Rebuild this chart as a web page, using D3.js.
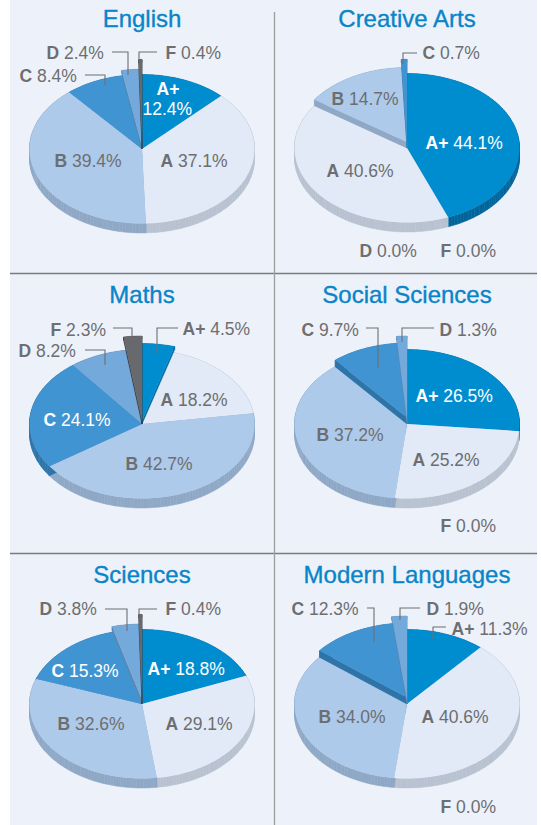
<!DOCTYPE html>
<html>
<head>
<meta charset="utf-8">
<script src="https://cdn.jsdelivr.net/npm/d3@7"></script>
<style>
  html, body { margin: 0; padding: 0; background: #fff; }
  svg { display: block; }
</style>
</head>
<body>
<svg></svg>
<script>
// values, in grade order
var grades = ["A+", "A", "B", "C", "D", "F"];
var english = [12.4, 37.1, 39.4, 8.4, 2.4, 0.4];
var creativeArts = [44.1, 40.6, 14.7, 0.7, 0.0, 0.0];
var maths = [4.5, 18.2, 42.7, 24.1, 8.2, 2.3];
var socialSciences = [26.5, 25.2, 37.2, 9.7, 1.3, 0.0];
var sciences = [18.8, 29.1, 32.6, 15.3, 3.8, 0.4];
var modernLanguages = [11.3, 40.6, 34.0, 12.3, 1.9, 0.0];

var screen = {width: 541, height: 825};
var topColors = {"A+": "#008dcf", "A": "#e1eaf6", "B": "#adcaea", "C": "#3f94d1", "D": "#74a9dc", "F": "#68696c"};
var wallColors = {"A+": "#00659b", "A": "#b9c2d0", "B": "#8fa8c6", "C": "#2e74a8", "D": "#5a86b0", "F": "#36363a"};
var grey = "#6d6e71";
var rx = 112.5, ry = 74.5, depth = 9.5;

// lift = px raised off the pie, grow = radial scale, labels = [x, baseline]
var panels = [
  {title: "English", values: english, cx: 142, cy: 149, titleY: 27,
   raised: {"D": [3, 1.03], "F": [3, 1.16]},
   labels: {"A+": [156.5, 95, "white"], "A": [160.5, 167], "B": [54.5, 167], "C": [19.5, 82], "D": [46.5, 59], "F": [165.5, 59]},
   wrapAt: [142.5, 115],
   leaders: [[[85, 75], [105, 75], [105, 85]], [[112, 52], [128, 52], [128, 75]], [[157, 52], [139, 52], [139, 60]]]},
  {title: "Creative Arts", values: creativeArts, cx: 407, cy: 148, titleY: 27,
   raised: {"B": [6, 1], "C": [3, 1.15]},
   labels: {"A+": [425.5, 149, "white"], "A": [326.5, 177], "B": [331.5, 105], "C": [422.5, 59], "D": [359.5, 257], "F": [440.5, 257]},
   leaders: [[[417, 53], [403, 53], [403, 64]]]},
  {title: "Maths", values: maths, cx: 142, cy: 424, titleY: 303,
   raised: {"A+": [3, 1.04], "F": [3, 1.14]},
   labels: {"A+": [182.5, 335], "A": [160.5, 406], "B": [125.5, 470], "C": [43.5, 426, "white"], "D": [18.5, 357], "F": [50.5, 336]},
   leaders: [[[178, 328], [157, 328], [157, 354]], [[85, 350], [105, 350], [105, 365]], [[113, 328], [132, 328], [132, 340]]]},
  {title: "Social Sciences", values: socialSciences, cx: 407, cy: 424, titleY: 303,
   raised: {"C": [6.5, 1], "D": [3, 1.14]},
   labels: {"A+": [415.5, 402, "white"], "A": [412.5, 466], "B": [316.5, 441], "C": [301.5, 336], "D": [439.5, 336], "F": [440.5, 532]},
   leaders: [[[366, 328], [378, 328], [378, 368]], [[434, 328], [402, 328], [402, 342]]]},
  {title: "Sciences", values: sciences, cx: 142, cy: 704, titleY: 583,
   raised: {"D": [4, 1.02], "F": [3, 1.16]},
   labels: {"A+": [147.5, 675, "white"], "A": [165.5, 730], "B": [57.5, 730], "C": [51.5, 677, "white"], "D": [39.5, 615], "F": [165.5, 615]},
   leaders: [[[105, 609], [127, 609], [127, 631]], [[157, 609], [139, 609], [139, 615]]]},
  {title: "Modern Languages", values: modernLanguages, cx: 407, cy: 704, titleY: 583,
   raised: {"C": [6.5, 1], "D": [3, 1.14]},
   labels: {"A+": [451.5, 634.5], "A": [421.5, 723], "B": [318.5, 723], "C": [291.5, 614.5], "D": [426.5, 614.5], "F": [440.5, 813]},
   leaders: [[[367, 608], [374, 608], [374, 642]], [[420, 608], [400, 608], [400, 620]], [[446, 627], [433, 627], [433, 639]]]}
];

var svg = d3.select("svg")
            .attr("width", screen.width)
            .attr("height", screen.height)
            .style("font-family", "'Liberation Sans', Arial, sans-serif");

// background and rules
svg.append("rect").attr("x", 10).attr("y", 0).attr("width", 527).attr("height", screen.height).attr("fill", "#edf2fa");
[273.5, 553.5].forEach(function(y) {
  svg.append("line").attr("x1", 10).attr("x2", 537).attr("y1", y).attr("y2", y)
     .attr("stroke", "#7a7c80").attr("stroke-width", 1.3);
});
svg.append("line").attr("x1", 274.5).attr("x2", 274.5).attr("y1", 12).attr("y2", screen.height)
   .attr("stroke", "#9a9ca0").attr("stroke-width", 1.3);

var pie = d3.pie().sort(null);
var line = d3.line();

panels.forEach(function(panel) {
  var slices = pie(panel.values).map(function(d, i) {
    var raise = panel.raised[grades[i]] || [0, 1];
    return {grade: grades[i], startAngle: d.startAngle, endAngle: d.endAngle, value: d.value, lift: raise[0], grow: raise[1]};
  });
  var x = d3.scaleLinear().domain([-1, 1]).range([panel.cx - rx, panel.cx + rx]);
  var y = d3.scaleLinear().domain([-1, 1]).range([panel.cy - ry, panel.cy + ry]);

  // outline of a slice: centre, then along the rim
  var outline = function(s, shift) {
    var n = Math.max(2, Math.ceil((s.endAngle - s.startAngle) / 0.03));
    var angle = d3.scaleLinear().domain([0, n]).range([s.startAngle, s.endAngle]);
    var pts = [[x(0), y(0) + shift]];
    d3.range(n + 1).forEach(function(k) {
      var a = angle(k);
      pts.push([x(Math.sin(a) * s.grow), y(-Math.cos(a) * s.grow) + shift]);
    });
    pts.push(pts[0]);
    return pts;
  };

  // side wall: one path per outline segment (a shared path cancels where quads fold over)
  var wall = function(g, s, top, bottom) {
    g.append("g").selectAll("path")
     .data(d3.pairs(outline(s, 0)))
     .enter()
     .append("path")
     .attr("d", function(p) {
       return line([[p[0][0], p[0][1] + top], [p[1][0], p[1][1] + top], [p[1][0], p[1][1] + bottom], [p[0][0], p[0][1] + bottom]]) + "Z";
     })
     .attr("fill", wallColors[s.grade])
     .attr("stroke", wallColors[s.grade]).attr("stroke-width", 0.5);
  };

  var g = svg.append("g");
  var visible = slices.filter(function(s) { return s.value > 0; });
  var flat = visible.filter(function(s) { return s.lift === 0; });
  var lifted = visible.filter(function(s) { return s.lift > 0; });

  // wide lifted slices keep their wall down to the pie's own base
  visible.filter(function(s) { return s.lift === 0 || s.lift >= 5; })
         .forEach(function(s) { wall(g, s, 0, depth); });
  flat.forEach(function(s) {
    g.append("path").attr("d", line(outline(s, 0)) + "Z").attr("fill", topColors[s.grade]);
  });
  lifted.forEach(function(s) {
    wall(g, s, -s.lift, 0);
    g.append("path").attr("d", line(outline(s, -s.lift)) + "Z").attr("fill", topColors[s.grade]);
  });

  // leader lines
  panel.leaders.forEach(function(pts) {
    g.append("path").attr("d", line(pts)).attr("fill", "none").attr("stroke", grey).attr("stroke-width", 1.1);
  });

  // title
  g.append("text").attr("x", panel.cx).attr("y", panel.titleY)
   .attr("text-anchor", "middle").attr("fill", "#0a84c9")
   .attr("stroke", "#0a84c9").attr("stroke-width", 0.35)
   .style("font-size", "24px").text(panel.title);

  // labels
  slices.forEach(function(s) {
    var spot = panel.labels[s.grade];
    var color = spot[2] || grey;
    var t = g.append("text").attr("x", spot[0]).attr("y", spot[1]).attr("fill", color).style("font-size", "17.5px");
    t.append("tspan").style("font-weight", "bold").text(s.grade);
    if (panel.wrapAt && s.grade === "A+") {
      t.append("tspan").attr("x", panel.wrapAt[0]).attr("y", panel.wrapAt[1]).text(s.value.toFixed(1) + "%");
    } else {
      t.append("tspan").text(" " + s.value.toFixed(1) + "%");
    }
  });
});
</script>
</body>
</html>
